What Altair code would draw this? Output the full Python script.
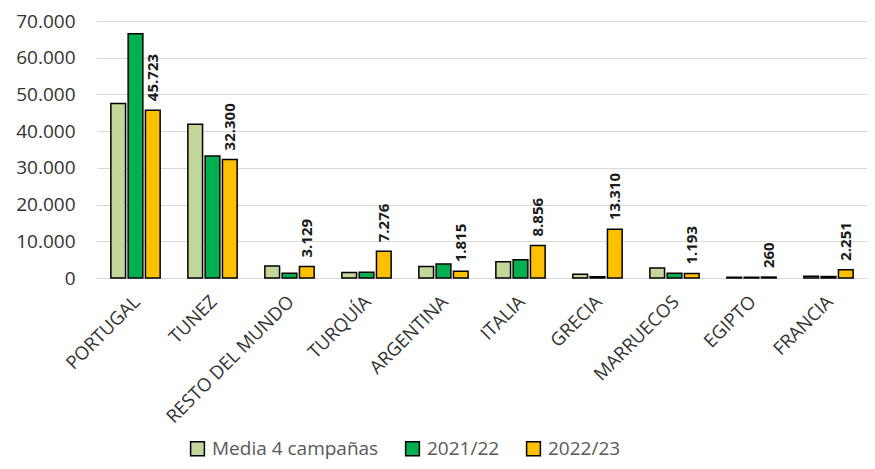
import altair as alt
import pandas as pd

categorias = ["PORTUGAL", "TUNEZ", "RESTO DEL MUNDO", "TURQUÍA", "ARGENTINA",
              "ITALIA", "GRECIA", "MARRUECOS", "EGIPTO", "FRANCIA"]
series = ["Media 4 campañas", "2021/22", "2022/23"]
media4 = [47500, 41900, 3300, 1500, 3100, 4400, 1000, 2700, 200, 450]
v2122 = [66500, 33200, 1300, 1600, 3800, 5000, 350, 1300, 200, 400]
v2223 = [45723, 32300, 3129, 7276, 1815, 8856, 13310, 1193, 260, 2251]
colores = ["#c4d79b", "#00b050", "#ffc000"]

rows = []
for i, c in enumerate(categorias):
    for s, vals in zip(series, [media4, v2122, v2223]):
        rows.append({"pais": c, "serie": s, "valor": vals[i]})
df = pd.DataFrame(rows)

FONT = "Open Sans"

x = alt.X("pais:N", sort=categorias, title=None,
          scale=alt.Scale(paddingInner=0.36, paddingOuter=0.18),
          axis=alt.Axis(labelAngle=-45, labelFontSize=18.5, labelColor="#333333",
                        labelFont=FONT, ticks=False, domain=False, labelPadding=14,
                        labelOffset=-5))
xoff = alt.XOffset("serie:N", sort=series,
                   scale=alt.Scale(domain=series, paddingInner=0.15, paddingOuter=0))
y = alt.Y("valor:Q", title=None,
          scale=alt.Scale(domain=[0, 70000], nice=False),
          axis=alt.Axis(values=list(range(0, 70001, 10000)), labelFontSize=19,
                        labelColor="#333333", labelFont=FONT, ticks=False, domain=False,
                        labelPadding=22, gridColor="#d9d9d9", gridWidth=1.2,
                        labelExpr="replace(format(datum.value, ','), ',', '.')"))

bars = alt.Chart(df).mark_bar(stroke="black", strokeWidth=1.5).encode(
    x=x, xOffset=xoff, y=y,
    color=alt.Color("serie:N", sort=series,
                    scale=alt.Scale(domain=series, range=colores),
                    legend=alt.Legend(title=None, orient="none", direction="horizontal",
                                      legendX=91, legendY=418, symbolType="square",
                                      symbolSize=190, symbolStrokeColor="black",
                                      symbolStrokeWidth=1.5, labelFontSize=19,
                                      labelColor="#595959", labelFont=FONT,
                                      labelLimit=400, columnPadding=23, labelOffset=5))
)

labels = alt.Chart(df).transform_filter(
    alt.datum.serie == "2022/23"
).transform_calculate(
    txt="replace(format(datum.valor, ','), ',', '.')"
).mark_text(angle=270, align="left", baseline="middle", dx=9, fontSize=15,
            fontWeight="bold", font=FONT, color="#1a1a1a").encode(
    x=x, xOffset=xoff, y=y, text="txt:N"
)

chart = alt.layer(bars, labels).properties(
    width=770, height=257,
    autosize=alt.AutoSizeParams(type="none"),
    padding={"left": 89, "top": 13, "right": 0, "bottom": 183}
).configure_view(stroke=None)

chart.save("out.html", embed_options={"renderer": "svg", "actions": False})
